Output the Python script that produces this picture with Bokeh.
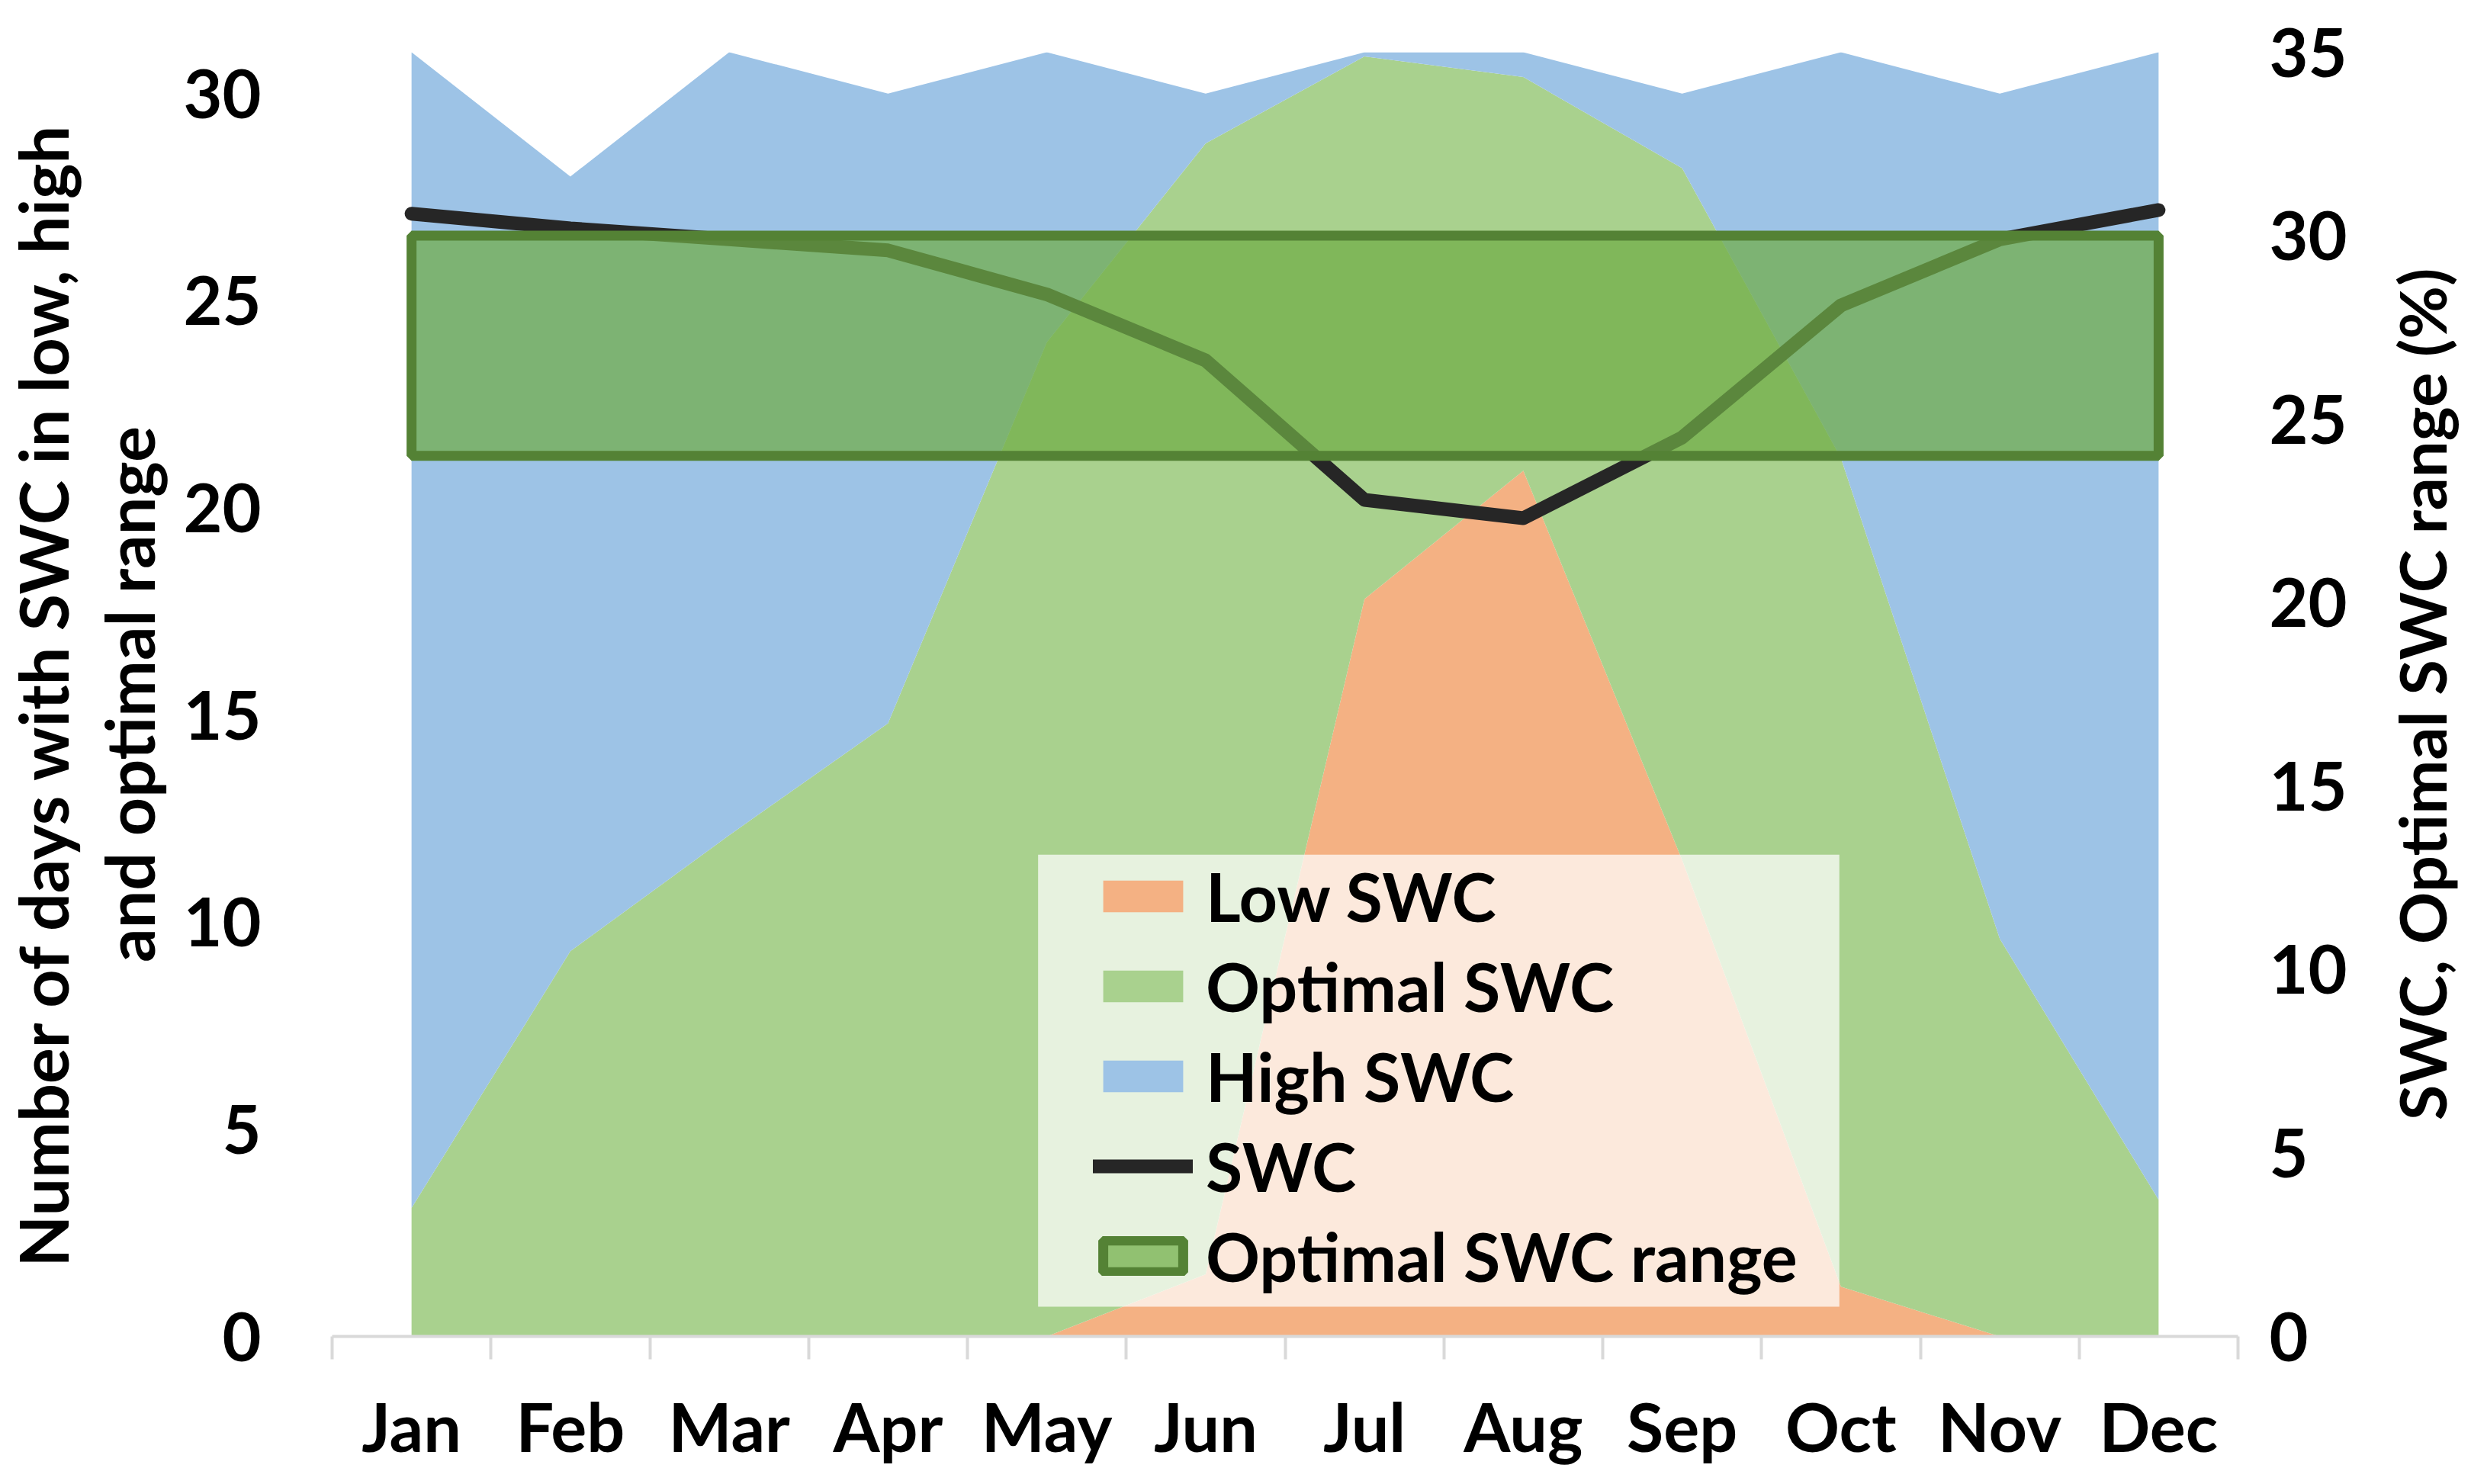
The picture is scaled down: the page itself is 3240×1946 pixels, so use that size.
import math
from bokeh.plotting import figure
from bokeh.layouts import row
from bokeh.core.properties import value
from bokeh.models import (Range1d, LinearAxis, FixedTicker, ColumnDataSource,
                          Legend, LegendItem, BoxAnnotation)
from bokeh.embed import file_html
from bokeh.resources import INLINE

# ---------------- data ----------------
months = ["Jan", "Feb", "Mar", "Apr", "May", "Jun", "Jul", "Aug", "Sep", "Oct", "Nov", "Dec"]
month_pos = list(range(12))
low_swc = [0, 0, 0, 0, 0, 1.5, 17.8, 20.9, 11.5, 1.2, 0, 0]
optimal_swc = [3.1, 9.3, 12.1, 14.8, 24.0, 27.3, 13.1, 9.5, 16.7, 20.0, 9.6, 3.3]
high_swc = [27.9, 18.7, 18.9, 15.2, 7.0, 1.2, 0.1, 0.6, 1.8, 9.8, 20.4, 27.7]
swc = [30.6, 30.2, 29.9, 29.6, 28.4, 26.6, 22.8, 22.3, 24.5, 28.1, 29.9, 30.7]
optimal_range = [24, 30]
left_ticks = [0, 5, 10, 15, 20, 25, 30]
right_ticks = [0, 5, 10, 15, 20, 25, 30, 35]
right_title = "SWC, Optimal SWC range (%)"

FONT = "Lato"
C_LOW, C_OPT, C_HIGH = "#F4B183", "#A9D18E", "#9DC3E6"

source = ColumnDataSource(dict(x=month_pos, low=low_swc, optimal=optimal_swc,
                               high=high_swc, swc=swc))

p = figure(width=3084, height=1946,
           min_border_left=434, min_border_right=150,
           min_border_top=68, min_border_bottom=194,
           x_range=Range1d(-0.5, 11.5), y_range=Range1d(0, 31),
           output_backend="svg", toolbar_location=None, tools="")
p.extra_y_ranges = {"right": Range1d(0, 35)}
p.outline_line_color = None
p.xgrid.visible = False
p.ygrid.visible = False
p.background_fill_color = "white"

areas = p.varea_stack(stackers=["low", "optimal", "high"], x="x", source=source,
                      color=[C_LOW, C_OPT, C_HIGH])

swc_line = p.line("x", "swc", source=source, y_range_name="right",
                  line_color="#262626", line_width=18,
                  line_cap="round", line_join="round")

rng = p.quad(left=month_pos[0], right=month_pos[-1],
             bottom=optimal_range[0], top=optimal_range[1],
             y_range_name="right", fill_color="#70AD47", fill_alpha=0.72,
             line_color="#548235", line_width=13)

# ---------------- axes ----------------
xax = p.xaxis[0]
xax.ticker = FixedTicker(ticks=month_pos,
                         minor_ticks=[m - 0.5 for m in month_pos] + [month_pos[-1] + 0.5])
xax.major_label_overrides = {i: m for i, m in zip(month_pos, months)}
xax.major_tick_line_color = None
xax.major_tick_out = 0
xax.minor_tick_out = 30
xax.minor_tick_in = 0
xax.minor_tick_line_color = "#D9D9D9"
xax.minor_tick_line_width = 4
xax.axis_line_color = "#D9D9D9"
xax.axis_line_width = 4
xax.major_label_standoff = 34
xax.major_label_text_font = FONT
xax.major_label_text_font_style = "bold"
xax.major_label_text_font_size = "88px"
xax.major_label_text_color = "black"

yl = p.yaxis[0]
yl.ticker = FixedTicker(ticks=left_ticks)
yl.axis_line_color = None
yl.major_tick_line_color = None
yl.minor_tick_line_color = None
yl.major_tick_out = 0
yl.minor_tick_out = 0
yl.major_label_standoff = 93
yl.major_label_text_font = FONT
yl.major_label_text_font_style = "bold"
yl.major_label_text_font_size = "88px"
yl.major_label_text_color = "black"
yl.axis_label = "Number of days with SWC in low, high\nand optimal range"
yl.axis_label_text_font = FONT
yl.axis_label_text_font_style = "bold"
yl.axis_label_text_font_size = "88px"
yl.axis_label_text_color = "black"
yl.axis_label_text_line_height = 1.07
yl.axis_label_standoff = 15
yl.axis_label_text_align = "center"

yr = LinearAxis(y_range_name="right", ticker=FixedTicker(ticks=right_ticks))
yr.axis_line_color = None
yr.major_tick_line_color = None
yr.minor_tick_line_color = None
yr.major_tick_out = 0
yr.minor_tick_out = 0
yr.major_label_standoff = 41
yr.major_label_text_font = FONT
yr.major_label_text_font_style = "bold"
yr.major_label_text_font_size = "88px"
yr.major_label_text_color = "black"
p.add_layout(yr, "right")

# ---------------- legend ----------------
legend_bg = BoxAnnotation(left=3.945, right=8.99, bottom=0.72, top=11.63,
                          fill_color="white", fill_alpha=0.72, line_color=None)
p.add_layout(legend_bg)

legend = Legend(items=[
    LegendItem(label="Low SWC", renderers=[areas[0]]),
    LegendItem(label="Optimal SWC", renderers=[areas[1]]),
    LegendItem(label="High SWC", renderers=[areas[2]]),
    LegendItem(label="SWC", renderers=[swc_line]),
    LegendItem(label="Optimal SWC range", renderers=[rng]),
], location=(998, 52), padding=8, margin=0, spacing=12,
   glyph_width=131, glyph_height=52, label_standoff=17,
   label_text_font=FONT, label_text_font_style="bold",
   label_text_font_size="88px", label_text_color="black",
   background_fill_alpha=0, border_line_color=None)
p.add_layout(legend)

# ---------------- right-hand title panel ----------------
p2 = figure(width=156, height=1946, min_border=0,
            min_border_top=68, min_border_bottom=194,
            x_range=Range1d(0, 156), y_range=Range1d(0, 35),
            x_axis_type=None, y_axis_type=None,
            output_backend="svg", toolbar_location=None, tools="")
p2.outline_line_color = None
p2.text(x=[90], y=[17.5], text=[right_title], angle=math.pi / 2,
        text_align="center", text_baseline="middle",
        text_font=value(FONT), text_font_style="bold", text_font_size="85px",
        text_color="black")

layout = row(p, p2, spacing=0)
open("out.html", "w").write(file_html(layout, INLINE))
